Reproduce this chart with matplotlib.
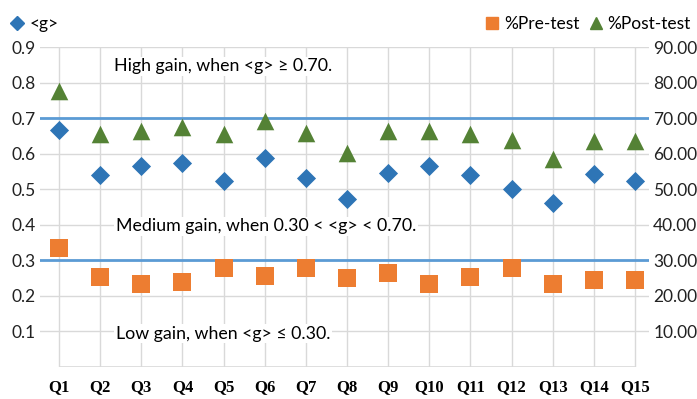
import matplotlib
matplotlib.use("Agg")
import matplotlib.pyplot as plt
from matplotlib.lines import Line2D

categories = ["Q1", "Q2", "Q3", "Q4", "Q5", "Q6", "Q7", "Q8", "Q9", "Q10",
              "Q11", "Q12", "Q13", "Q14", "Q15"]
gain = [0.667, 0.539, 0.565, 0.575, 0.524, 0.589, 0.531, 0.472, 0.547, 0.565,
        0.539, 0.502, 0.461, 0.543, 0.523]
pre_test = [33.5, 25.3, 23.4, 23.8, 27.9, 25.6, 27.8, 25.1, 26.4, 23.4,
            25.2, 27.8, 23.4, 24.4, 24.4]
post_test = [77.7, 65.5, 66.4, 67.5, 65.5, 69.2, 65.7, 60.2, 66.3, 66.4,
             65.4, 63.8, 58.4, 63.5, 63.6]
left_ticks = [0.1, 0.2, 0.3, 0.4, 0.5, 0.6, 0.7, 0.8, 0.9]
right_ticks = [10, 20, 30, 40, 50, 60, 70, 80, 90]
thresholds = [0.3, 0.7]

C_BLUE = "#2E75B6"
C_ORANGE = "#ED7D31"
C_GREEN = "#548235"
C_LINE = "#5B9BD5"
C_GRID = "#D9D9D9"
FONT = "Lato"

W, H = 697, 399
fig = plt.figure(figsize=(W / 100, H / 100), dpi=100)
x0, x1, ytop, ybot = 40, 649, 47, 367
ax = fig.add_axes([x0 / W, (H - ybot) / H, (x1 - x0) / W, (ybot - ytop) / H])
ax2 = ax.twinx()

xs = list(range(len(categories)))
spacing = (635 - 59) / 14
ax.set_xlim(-(59 - x0) / spacing, 14 + (x1 - 635) / spacing)
ax.set_ylim(0, 0.9)
ax2.set_ylim(0, 90)

ax.set_axisbelow(True)
for y in left_ticks:
    ax.axhline(y, color=C_GRID, lw=1, zorder=0)
ax.vlines(xs, 0, 0.9, color=C_GRID, lw=1, zorder=0)
ax.hlines(0, xs[0], xs[-1], color=C_GRID, lw=1.2, zorder=0)

for t in thresholds:
    ax.axhline(t, color=C_LINE, lw=2, zorder=1)

ax.scatter(xs, gain, marker="D", s=95, color=C_BLUE, zorder=4, linewidths=0)
ax2.scatter(xs, pre_test, marker="s", s=150, color=C_ORANGE, zorder=4, linewidths=0)
ax2.scatter(xs, post_test, marker="^", s=160, color=C_GREEN, zorder=4, linewidths=0)

for a in (ax, ax2):
    for s in a.spines.values():
        s.set_visible(False)

ax.set_yticks(left_ticks)
ax.set_yticklabels([f"{v:.1f}" for v in left_ticks], fontsize=12.5, family=FONT, color="#222222")
ax2.set_yticks(right_ticks)
ax2.set_yticklabels([f"{v:.2f}" for v in right_ticks], fontsize=12.5, family=FONT, color="#222222")
ax.tick_params(axis="y", length=0, pad=3)
ax2.tick_params(axis="y", length=0, pad=3)
ax.set_xticks(xs)
ax.set_xticklabels(categories, fontsize=12, family="Liberation Serif", fontweight="bold")
ax.tick_params(axis="x", length=0, pad=9)

bbox = dict(facecolor="white", edgecolor="none", pad=1)
ax.text(1.33, 0.846, "High gain, when <g> \u2265 0.70.", fontsize=12.8, family=FONT,
        va="center", ha="left", bbox=bbox, zorder=3)
ax.text(1.38, 0.396, "Medium gain, when 0.30 < <g> < 0.70.", fontsize=12.8, family=FONT,
        va="center", ha="left", bbox=bbox, zorder=3)
ax.text(1.38, 0.094, "Low gain, when <g> \u2264 0.30.", fontsize=12.8, family=FONT,
        va="center", ha="left", bbox=bbox, zorder=3)

h1 = [Line2D([], [], marker="D", ls="none", color=C_BLUE, markersize=7, label="<g>")]
fig.legend(handles=h1, loc="center left", bbox_to_anchor=(12 / W, 1 - 24 / H),
           frameon=False, prop={"family": FONT, "size": 12.5},
           handlelength=0.6, handletextpad=0.4, borderaxespad=0, borderpad=0)
h2 = [Line2D([], [], marker="s", ls="none", color=C_ORANGE, markersize=9, label="%Pre-test"),
      Line2D([], [], marker="^", ls="none", color=C_GREEN, markersize=9, label="%Post-test")]
fig.legend(handles=h2, loc="center right", bbox_to_anchor=(691 / W, 1 - 24 / H), ncol=2,
           frameon=False, prop={"family": FONT, "size": 12.5},
           handlelength=0.6, handletextpad=0.4, columnspacing=0.6,
           borderaxespad=0, borderpad=0)

fig.savefig("out.png", dpi=100)
